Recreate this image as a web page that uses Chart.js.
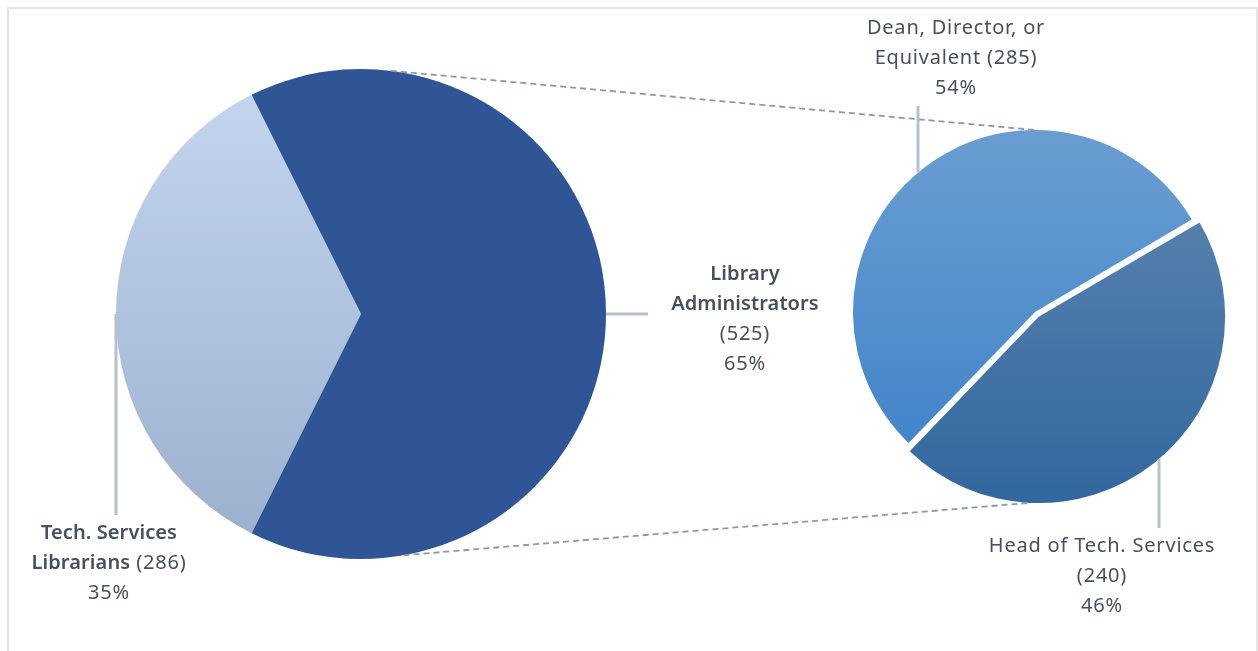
<!DOCTYPE html>
<html>
<head>
<meta charset="utf-8">
<script src="https://cdn.jsdelivr.net/npm/chart.js@4.4.0/dist/chart.umd.min.js"></script>
<style>
    body { margin: 0; background: #fff; width: 1258px; height: 651px; overflow: hidden; position: relative; font-family: "Noto Sans", sans-serif; }
    #frame { position: absolute; left: 7px; top: 7px; width: 1247px; height: 660px; border: 2px solid #E3E7EC; border-bottom: none; }
    .box { position: absolute; }
    .lbl { position: absolute; text-align: center; color: #46515F; font-size: 20px; line-height: 30px; letter-spacing: 0.8px; white-space: nowrap; transform: translateX(-50%); }
    .lbl b { font-weight: 600; letter-spacing: 0.1px; }
    svg { position: absolute; left: 0; top: 0; }
</style>
</head>
<body>
<div id="frame"></div>
<div class="box" style="left:111px;top:64px;width:500px;height:500px"><canvas id="mainPie"></canvas></div>
<div class="box" style="left:835px;top:112px;width:400px;height:400px"><canvas id="subPie"></canvas></div>
<svg id="lines" width="1258" height="651"></svg>

<div class="lbl" style="left:109px;top:517px"><b>Tech. Services</b><br><b>Librarians</b> (286)<br>35%</div>
<div class="lbl" style="left:745px;top:258px"><b>Library</b><br><b>Administrators</b><br>(525)<br>65%</div>
<div class="lbl" style="left:956px;top:12px">Dean, Director, or<br>Equivalent (285)<br>54%</div>
<div class="lbl" style="left:1102px;top:530px">Head of Tech. Services<br>(240)<br>46%</div>

<script>
const mainLabels = ['Tech. Services Librarians', 'Library Administrators'];
const mainValues = [286, 525];
const subLabels = ['Dean, Director, or Equivalent', 'Head of Tech. Services'];
const subValues = [285, 240];

// per-slice colours: [top, bottom] of a vertical gradient (same value = flat)
const mainColors = [['#C5D7F0', '#9AAECD'], ['#2F5597', '#2F5597']];
const subColors = [['#6C9FD2', '#3A80C8'], ['#6289B2', '#30669E']];

function sliceFill(colors) {
    return (ctx) => {
        const [top, bottom] = colors[ctx.dataIndex];
        const area = ctx.chart.chartArea;
        if (!area || top === bottom) return top;
        const g = ctx.chart.ctx.createLinearGradient(0, area.top, 0, area.bottom);
        g.addColorStop(0, top);
        g.addColorStop(1, bottom);
        return g;
    };
}

const mainTotal = mainValues.reduce((a, b) => a + b, 0);
const explode = 24;   // chart.js offset for the lower slice (moves it by explode / 4)

const commonOptions = {
    responsive: true,
    maintainAspectRatio: false,
    animation: false,
    events: [],
    layout: { padding: 0 },
    plugins: { legend: { display: false }, tooltip: { enabled: false } }
};

const mainChart = new Chart(document.getElementById('mainPie'), {
    type: 'pie',
    data: {
        labels: mainLabels,
        datasets: [{
            data: mainValues,
            backgroundColor: sliceFill(mainColors),
            borderWidth: 0,
            radius: 245
        }]
    },
    options: { ...commonOptions, rotation: 270 - mainValues[0] / mainTotal * 180 }
});

const subChart = new Chart(document.getElementById('subPie'), {
    type: 'pie',
    data: {
        labels: subLabels,
        datasets: [{
            data: subValues,
            backgroundColor: sliceFill(subColors),
            borderWidth: 0,
            offset: [0, explode],
            radius: 182
        }]
    },
    options: { ...commonOptions, rotation: 224 }
});

// connector and leader lines
function drawLines() {
    const svg = document.getElementById('lines');
    const mainBox = document.getElementById('mainPie').parentNode;
    const subBox = document.getElementById('subPie').parentNode;
    const m = mainChart.getDatasetMeta(0).data[1];
    const s0 = subChart.getDatasetMeta(0).data[0];
    const s1 = subChart.getDatasetMeta(0).data[1];
    const mx = mainBox.offsetLeft + m.x, my = mainBox.offsetTop + m.y, mr = m.outerRadius;
    const sx = subBox.offsetLeft + s0.x, sy = subBox.offsetTop + s0.y, sr = s0.outerRadius;
    // where the exploded slice ends up (same maths as ArcElement.draw)
    const shift = explode / 4;
    const lowMid = (s1.startAngle + s1.endAngle) / 2;
    const lr = sr + shift * (1 - Math.sin(Math.min(Math.PI, s1.circumference)));
    const lx = sx + shift * Math.cos(lowMid), ly = sy + shift * Math.sin(lowMid);
    const pt = (cx, cy, r, deg) => [cx + r * Math.cos(deg * Math.PI / 180), cy + r * Math.sin(deg * Math.PI / 180)];

    const a = pt(mx, my, mr, -83), b = pt(sx, sy, sr, -90);
    const c = pt(mx, my, mr, 80), d = pt(lx, ly, lr, 93);
    const deanX = 918, headX = 1159;
    const deanY = sy - Math.sqrt(sr * sr - (deanX - sx) ** 2);
    const headY = ly + Math.sqrt(lr * lr - (headX - lx) ** 2);

    const dash = 'stroke="#8B98AF" stroke-width="1.8" stroke-dasharray="6 4" fill="none"';
    const lead = 'stroke="#B6C0CD" stroke-width="3" fill="none"';
    svg.innerHTML =
        `<line x1="${a[0]}" y1="${a[1]}" x2="${b[0]}" y2="${b[1]}" ${dash}/>` +
        `<line x1="${c[0]}" y1="${c[1]}" x2="${d[0]}" y2="${d[1]}" ${dash}/>` +
        `<line x1="${mx - mr}" y1="${my}" x2="${mx - mr}" y2="515" ${lead}/>` +
        `<line x1="${mx + mr}" y1="${my}" x2="648" y2="${my}" ${lead}/>` +
        `<line x1="${deanX}" y1="${deanY}" x2="${deanX}" y2="106" ${lead}/>` +
        `<line x1="${headX}" y1="${headY}" x2="${headX}" y2="528" ${lead}/>`;
}
drawLines();
</script>
</body>
</html>
